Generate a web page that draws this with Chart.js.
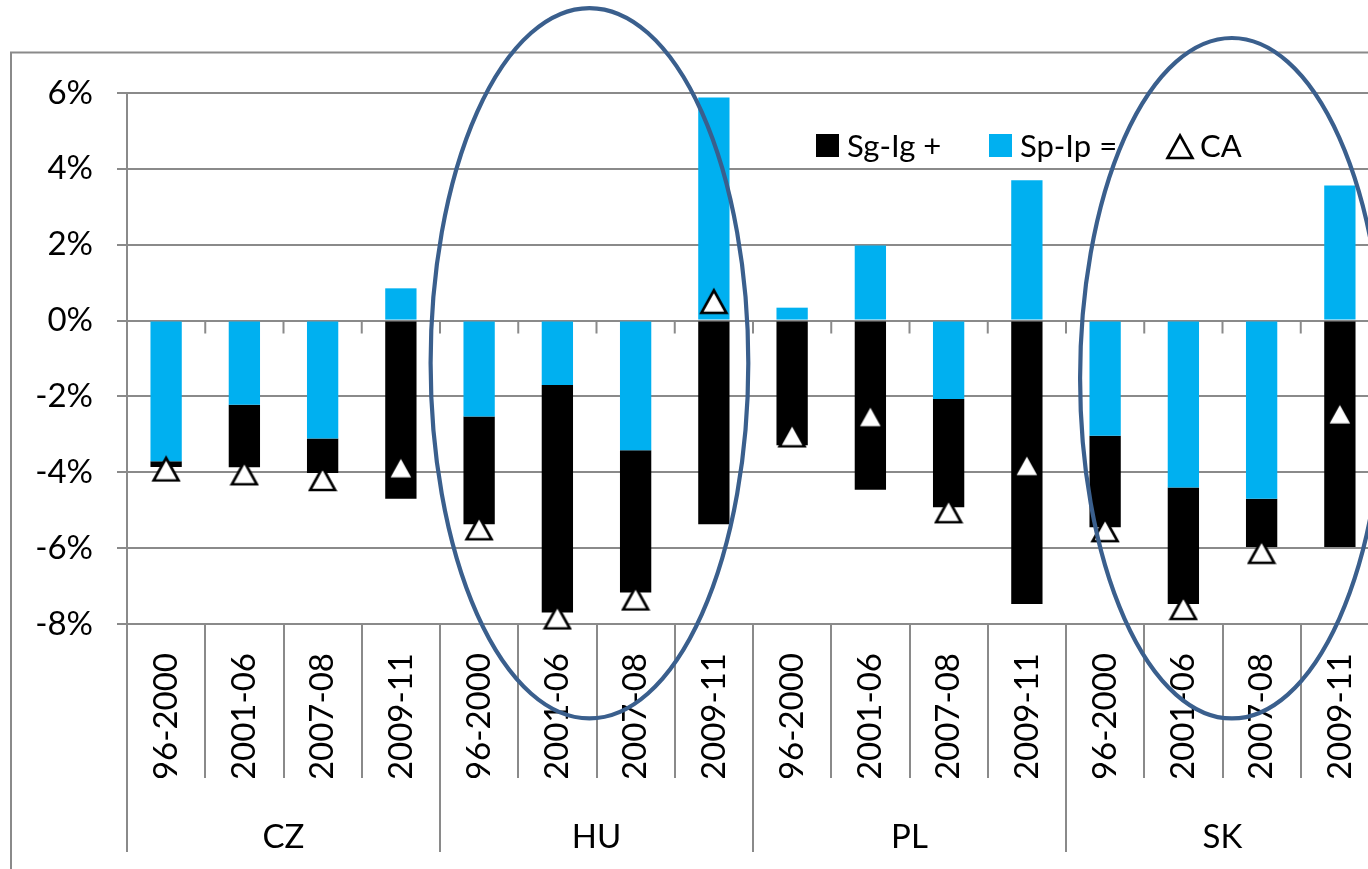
<!DOCTYPE html>
<html>
<head>
<meta charset="utf-8">
<title>Saving-investment balances and current account</title>
<style>
  html, body { margin: 0; padding: 0; overflow: hidden; background: #fff; }
  #wrap { position: relative; width: 1368px; height: 869px; overflow: hidden; }
  canvas { display: block; }
</style>
<script src="https://cdn.jsdelivr.net/npm/chart.js@4.4.1/dist/chart.umd.min.js"></script>
</head>
<body>
<div id="wrap"><canvas id="chart" width="1400" height="869"></canvas></div>
<script>
// Periods shown for each country, and the countries themselves
const periods = ['96-2000', '2001-06', '2007-08', '2009-11'];
const countries = ['CZ', 'HU', 'PL', 'SK'];

// Balances in % of GDP, one value per country/period (CZ, HU, PL, SK)
const sgIg = [-0.15, -1.65, -0.91, -4.70,  -2.84, -6.00, -3.75, -5.37,  -3.29, -4.46, -2.85, -7.47,  -2.41, -3.07, -1.27, -5.97];
const spIp = [-3.71, -2.22, -3.11,  0.85,  -2.53, -1.70, -3.42,  5.88,   0.34,  1.98, -2.07,  3.70,  -3.04, -4.40, -4.70,  3.56];
const caBalance = [-3.90, -4.00, -4.15, -3.85,  -5.45, -7.80, -7.30, 0.52,  -3.00, -2.50, -5.00, -3.79,  -5.50, -7.55, -6.07, -2.43];

// Value axis range
const yMin = -8, yMax = 6, yStep = 2;

// Series names
const seriesNames = { sg: 'Sg-Ig +', sp: 'Sp-Ip =', ca: 'CA' };

const categoryLabels = countries.flatMap(() => periods);

const GRID = '#8a8a8a';
const BLUE = '#00B0F0';
const FONT = 'Lato, "Open Sans", sans-serif';

// White triangle marker with a black outline
function triangleMarker() {
  const c = document.createElement('canvas');
  c.width = 30; c.height = 28;
  const g = c.getContext('2d');
  g.beginPath();
  g.moveTo(15, 3.5);
  g.lineTo(27.5, 26);
  g.lineTo(2.5, 26);
  g.closePath();
  g.fillStyle = '#fff';
  g.fill();
  g.lineWidth = 2.6;
  g.strokeStyle = '#000';
  g.stroke();
  return c;
}
const tri = triangleMarker();

// Outer chart border
const framePlugin = {
  id: 'frame',
  beforeDraw(chart) {
    const ctx = chart.ctx;
    ctx.save();
    ctx.strokeStyle = GRID;
    ctx.lineWidth = 2;
    ctx.strokeRect(11, 52.5, chart.width + 40, chart.height + 40);
    ctx.restore();
  }
};

// Category tick marks where the axis crosses zero
const zeroTicksPlugin = {
  id: 'zeroTicks',
  beforeDatasetsDraw(chart) {
    const x = chart.scales.x, y = chart.scales.y;
    const y0 = y.getPixelForValue(0);
    const step = x.getPixelForValue(1) - x.getPixelForValue(0);
    const ctx = chart.ctx;
    ctx.save();
    ctx.strokeStyle = GRID;
    ctx.lineWidth = 2;
    ctx.beginPath();
    for (let i = 1; i <= categoryLabels.length; i++) {
      const bx = x.getPixelForValue(i - 1) + step / 2;
      ctx.moveTo(bx, y0);
      ctx.lineTo(bx, y0 + 13);
    }
    ctx.stroke();
    ctx.restore();
  }
};

// Legend drawn inside the plot area
const legendLayout = { baseline: 157, boxTop: 134, box: 23, items: [
  { key: 'sg', left: 816, textGap: 31 },
  { key: 'sp', left: 989, textGap: 31 },
  { key: 'ca', left: 1167, textGap: 33 }
]};
const innerLegendPlugin = {
  id: 'innerLegend',
  afterDatasetsDraw(chart) {
    const ctx = chart.ctx;
    ctx.save();
    ctx.font = '31px ' + FONT;
    ctx.textBaseline = 'alphabetic';
    for (const it of legendLayout.items) {
      const ds = chart.data.datasets.find(d => d.key === it.key);
      if (ds.type === 'line') {
        ctx.drawImage(tri, it.left - 2, legendLayout.boxTop - 2);
      } else {
        ctx.fillStyle = ds.backgroundColor;
        ctx.fillRect(it.left, legendLayout.boxTop, legendLayout.box, legendLayout.box);
      }
      ctx.fillStyle = '#000';
      ctx.fillText(ds.label, it.left + it.textGap, legendLayout.baseline);
    }
    ctx.restore();
  }
};

// Outlined ellipses around the HU and SK groups (bounds in axis units)
const highlights = [
  { x0: 3.38, x1: 7.44, top: 8.24, bottom: -10.49 },
  { x0: 11.68, x1: 15.56, top: 7.45, bottom: -10.49 }
];
const highlightPlugin = {
  id: 'highlight',
  afterDraw(chart) {
    const x = chart.scales.x, y = chart.scales.y;
    const ctx = chart.ctx;
    ctx.save();
    ctx.strokeStyle = '#3a5f8d';
    ctx.lineWidth = 4.2;
    for (const h of highlights) {
      const l = x.getPixelForValue(h.x0), r = x.getPixelForValue(h.x1);
      const t = y.getPixelForValue(h.top), b = y.getPixelForValue(h.bottom);
      ctx.beginPath();
      ctx.ellipse((l + r) / 2, (t + b) / 2, (r - l) / 2, (b - t) / 2, 0, 0, Math.PI * 2);
      ctx.stroke();
    }
    ctx.restore();
  }
};

Chart.defaults.font.family = FONT;
Chart.defaults.font.size = 33;
Chart.defaults.color = '#000';

new Chart(document.getElementById('chart'), {
  data: {
    labels: categoryLabels,
    datasets: [
      { key: 'sp', type: 'bar', label: seriesNames.sp, data: spIp, backgroundColor: BLUE,
        categoryPercentage: 1, barPercentage: 0.4, order: 1 },
      { key: 'sg', type: 'bar', label: seriesNames.sg, data: sgIg, backgroundColor: '#000',
        categoryPercentage: 1, barPercentage: 0.4, order: 1 },
      { key: 'ca', type: 'line', label: seriesNames.ca, data: caBalance, showLine: false,
        pointStyle: tri, pointRadius: 14, order: 0, clip: false }
    ]
  },
  options: {
    responsive: false,
    animation: false,
    layout: { padding: { top: 93, right: 21, bottom: 0, left: 0 } },
    plugins: { legend: { display: false }, tooltip: { enabled: false } },
    scales: {
      x: {
        type: 'category', stacked: true, offset: true, weight: 0, position: 'bottom',
        grid: { offset: true, drawOnChartArea: false, color: GRID, lineWidth: 2, tickLength: 154 },
        border: { display: false },
        ticks: { autoSkip: false, minRotation: 90, maxRotation: 90, padding: -125, font: { size: 33 } },
        afterFit(s) { s.height = 154; }
      },
      x2: {
        type: 'category', labels: countries, offset: true, weight: 1, position: 'bottom',
        grid: { offset: true, drawOnChartArea: false, color: GRID, lineWidth: 2, tickLength: 74 },
        border: { display: false },
        ticks: { padding: -34, font: { size: 33 } },
        afterFit(s) { s.height = 91; }
      },
      y: {
        stacked: true, min: yMin, max: yMax,
        ticks: { stepSize: yStep, padding: 24, callback: v => v + '%', font: { size: 33 } },
        grid: { color: GRID, lineWidth: 2, tickLength: 10 },
        border: { color: GRID, width: 2 },
        afterFit(s) { s.width = 127; }
      }
    }
  },
  plugins: [framePlugin, zeroTicksPlugin, innerLegendPlugin, highlightPlugin]
});
</script>
</body>
</html>
